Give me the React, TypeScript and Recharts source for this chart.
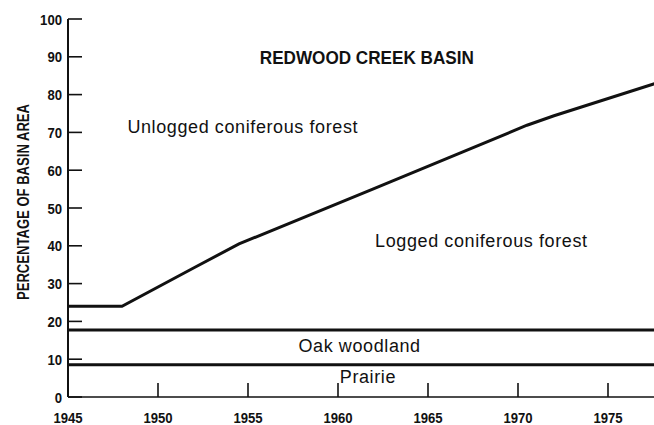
import React from 'react';
import { LineChart, Line, XAxis, YAxis, ReferenceLine, ReferenceDot } from 'recharts';

// boundary between unlogged and logged coniferous forest (percent of basin area)
const years = [1945, 1948, 1952, 1954.5, 1962, 1966.5, 1970.5, 1972, 1978];
const loggedLimit = [24, 24, 34.2, 40.5, 55.1, 64, 71.9, 74.4, 83.5];
const oakWoodlandTop = 17.7;
const prairieTop = 8.5;

const yearTicks = [1945, 1950, 1955, 1960, 1965, 1970, 1975];
const percentTicks = [0, 10, 20, 30, 40, 50, 60, 70, 80, 90, 100];

const chartData = years.map((year, i) => ({ year, pct: loggedLimit[i] }));

const INK = '#111';
const FONT = "'Liberation Sans', Arial, sans-serif";
// the original uses a condensed face; squeeze the bold labels to about that width
const DIGIT_W = 7.3;

const annotations = [
  { txt: 'REDWOOD CREEK BASIN', year: 1961.6, pct: 89.8, anchor: 'middle', fs: 19, bold: true, len: 214 },
  { txt: 'Unlogged coniferous forest', year: 1948.3, pct: 71.4, anchor: 'start', fs: 18 },
  { txt: 'Logged coniferous forest', year: 1962.06, pct: 41.4, anchor: 'start', fs: 18 },
  { txt: 'Oak woodland', year: 1961.2, pct: 13.6, anchor: 'middle', fs: 18 },
  { txt: 'Prairie', year: 1960.1, pct: 5.3, anchor: 'start', fs: 18 },
];

function Annotation({ viewBox, txt, anchor, fs, bold, len }: any) {
  const cx = viewBox.x + viewBox.width / 2;
  const cy = viewBox.y + viewBox.height / 2;
  return (
    <text
      x={cx}
      y={cy}
      textAnchor={anchor}
      dominantBaseline="central"
      fontFamily={FONT}
      fontWeight={bold ? 'bold' : 'normal'}
      fontSize={fs}
      letterSpacing={bold ? 0 : 0.6}
      textLength={len}
      lengthAdjust={len ? 'spacingAndGlyphs' : undefined}
      fill={INK}
    >
      {txt}
    </text>
  );
}

function AxisTitle({ viewBox }: any) {
  const cx = 23;
  const cy = viewBox.y + viewBox.height / 2 - 6;
  return (
    <text
      x={cx}
      y={cy}
      transform={`rotate(-90, ${cx}, ${cy})`}
      textAnchor="middle"
      dominantBaseline="central"
      fontFamily={FONT}
      fontWeight="bold"
      fontSize={16}
      textLength={196}
      lengthAdjust="spacingAndGlyphs"
      fill={INK}
    >
      PERCENTAGE OF BASIN AREA
    </text>
  );
}

function BottomTick({ x, y, payload }: any) {
  const label = String(payload.value);
  return (
    <g>
      <line x1={x} y1={y} x2={x} y2={y - 14} stroke={INK} strokeWidth={1.6} />
      <text
        x={x}
        y={y + 25.5}
        textAnchor="middle"
        fontFamily={FONT}
        fontWeight="bold"
        fontSize={15}
        textLength={label.length * DIGIT_W}
        lengthAdjust="spacingAndGlyphs"
        fill={INK}
      >
        {label}
      </text>
    </g>
  );
}

function TopTick({ x, y }: any) {
  return <line x1={x} y1={y} x2={x} y2={y + 14} stroke={INK} strokeWidth={1.6} />;
}

function LeftTick({ x, y, payload }: any) {
  const label = String(payload.value);
  return (
    <g>
      <line x1={x} y1={y} x2={x + 14} y2={y} stroke={INK} strokeWidth={1.6} />
      <text
        x={x - 6}
        y={y}
        textAnchor="end"
        dominantBaseline="central"
        fontFamily={FONT}
        fontWeight="bold"
        fontSize={15.5}
        textLength={label.length * DIGIT_W}
        lengthAdjust="spacingAndGlyphs"
        fill={INK}
      >
        {label}
      </text>
    </g>
  );
}

function RightTick({ x, y }: any) {
  return <line x1={x} y1={y} x2={x - 15} y2={y} stroke={INK} strokeWidth={1.6} />;
}

export default function App() {
  return (
    <div style={{ position: 'absolute', left: 0, top: 0, width: 654, height: 425, overflow: 'hidden', background: '#fff' }}>
      <LineChart width={670} height={425} data={chartData} margin={{ top: 19, right: 8, bottom: 0, left: 0 }}>
        <XAxis
          dataKey="year"
          type="number"
          domain={[1945, 1978]}
          ticks={yearTicks}
          interval={0}
          height={28}
          tickSize={0}
          tickMargin={0}
          tick={<BottomTick />}
          axisLine={{ stroke: INK, strokeWidth: 1.6 }}
        />
        <XAxis
          xAxisId="top"
          orientation="top"
          dataKey="year"
          type="number"
          domain={[1945, 1978]}
          ticks={yearTicks}
          interval={0}
          height={0}
          tickSize={0}
          tickMargin={0}
          tick={<TopTick />}
          axisLine={{ stroke: INK, strokeWidth: 1.4 }}
        />
        <YAxis
          type="number"
          domain={[0, 100]}
          ticks={percentTicks}
          interval={0}
          width={68}
          tickSize={0}
          tickMargin={0}
          tick={<LeftTick />}
          axisLine={{ stroke: INK, strokeWidth: 2 }}
          label={<AxisTitle />}
        />
        <YAxis
          yAxisId="right"
          orientation="right"
          type="number"
          domain={[0, 100]}
          ticks={percentTicks}
          interval={0}
          width={0}
          tickSize={0}
          tickMargin={0}
          tick={<RightTick />}
          axisLine={{ stroke: INK, strokeWidth: 2 }}
        />
        <ReferenceLine y={oakWoodlandTop} stroke={INK} strokeWidth={3} />
        <ReferenceLine y={prairieTop} stroke={INK} strokeWidth={3} />
        <Line type="linear" dataKey="pct" stroke={INK} strokeWidth={3} dot={false} isAnimationActive={false} />
        {annotations.map((a) => (
          <ReferenceDot
            key={a.txt}
            x={a.year}
            y={a.pct}
            r={0}
            fill="none"
            stroke="none"
            label={<Annotation txt={a.txt} anchor={a.anchor} fs={a.fs} bold={a.bold} len={a.len} />}
          />
        ))}
      </LineChart>
    </div>
  );
}
